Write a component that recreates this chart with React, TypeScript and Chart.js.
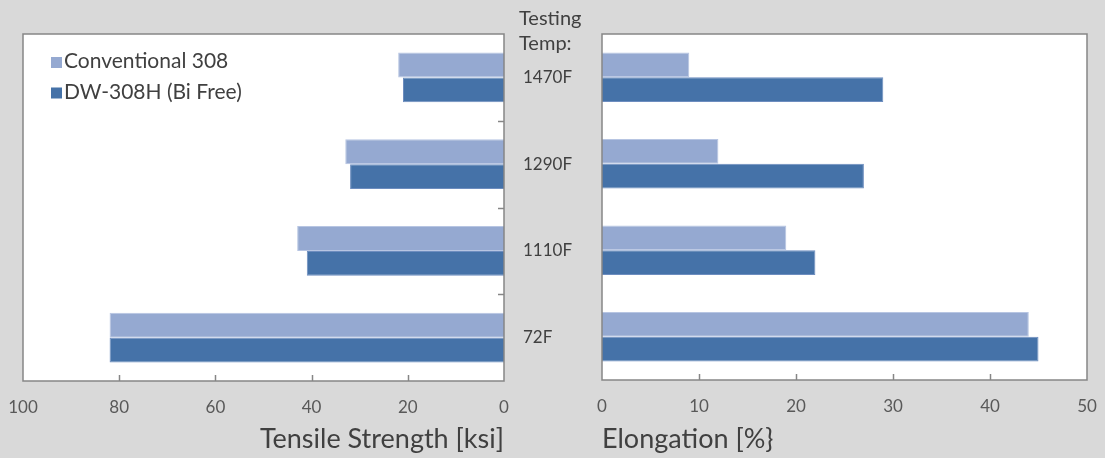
import React, { useEffect, useRef } from "react";
import { Chart, registerables } from "chart.js";

Chart.register(...registerables);

// ---- data ----
const temps = ["1470F", "1290F", "1110F", "72F"];
const seriesNames = ["Conventional 308", "DW-308H (Bi Free)"];
const tensileConventional = [22, 33, 43, 82];
const tensileDW = [21, 32, 41, 82];
const elongConventional = [9, 12, 19, 44];
const elongDW = [29, 27, 22, 45];
const tensileMax = 100;
const tensileStep = 20;
const elongMax = 50;
const elongStep = 10;
const tensileTitle = "Tensile Strength [ksi]";
const elongTitle = "Elongation [%}";
const headerLines = ["Testing", "Temp:"];

// ---- styles ----
const W = 1105;
const H = 458;
const BG = "#d9d9d9";
const LIGHT = "#95a9d1";
const LIGHT_BORDER = "#b7c5e2";
const DARK = "#4572a8";
const DARK_BORDER = "#6d8dbf";
const FRAME = "#868686";
const TEXT = "#404040";
const TICK_TEXT = "#595959";
const FONT = "Lato";

const framePlugin = {
  id: "frame",
  beforeDraw(chart: any) {
    const { ctx, chartArea: a } = chart;
    ctx.save();
    ctx.fillStyle = "#ffffff";
    ctx.fillRect(a.left, a.top, a.right - a.left, a.bottom - a.top);
    ctx.restore();
  },
  afterDraw(chart: any, _args: any, opts: any) {
    const { ctx, chartArea: a } = chart;
    ctx.save();
    ctx.strokeStyle = FRAME;
    ctx.lineWidth = 1.5;
    const xs = chart.scales.x;
    ctx.beginPath();
    xs.ticks.forEach((t: any) => {
      const px = Math.round(xs.getPixelForValue(t.value)) + 0.5;
      if (px > a.left + 2 && px < a.right - 2) {
        ctx.moveTo(px, a.bottom);
        ctx.lineTo(px, a.bottom - 6);
      }
    });
    ctx.stroke();
    if (opts && opts.yTicks) {
      const ys = chart.scales.y;
      ctx.beginPath();
      for (let i = 1; i < ys.ticks.length; i++) {
        const py =
          Math.round((ys.getPixelForTick(i - 1) + ys.getPixelForTick(i)) / 2) + 0.5;
        ctx.moveTo(a.right, py);
        ctx.lineTo(a.right - 6, py);
      }
      ctx.stroke();
    }
    ctx.strokeRect(a.left, a.top, a.right - a.left, a.bottom - a.top);
    ctx.restore();
  },
};

const legendPlugin = {
  id: "insideLegend",
  afterDraw(chart: any, _args: any, opts: any) {
    if (!opts || !opts.show) return;
    const { ctx, chartArea: a } = chart;
    ctx.save();
    ctx.font = `21px ${FONT}`;
    ctx.textBaseline = "alphabetic";
    ctx.textAlign = "left";
    chart.data.datasets.forEach((ds: any, i: number) => {
      const baseY = a.top + 34 + i * 30.5;
      ctx.fillStyle = ds.backgroundColor;
      ctx.fillRect(a.left + 28, baseY - 11, 11, 11);
      ctx.fillStyle = TEXT;
      ctx.fillText(ds.label, a.left + 41, baseY);
    });
    ctx.restore();
  },
};

const headerPlugin = {
  id: "header",
  afterDraw(chart: any, _args: any, opts: any) {
    if (!opts || !opts.show) return;
    const { ctx, chartArea: a } = chart;
    ctx.save();
    ctx.font = `20px ${FONT}`;
    ctx.fillStyle = TEXT;
    ctx.textAlign = "left";
    ctx.textBaseline = "alphabetic";
    headerLines.forEach((line, i) => {
      ctx.fillText(line, a.right + 15, 25 + i * 25);
    });
    ctx.restore();
  },
};

function makeConfig(left: boolean, a: number[], b: number[]): any {
  const xTicks = {
    stepSize: left ? tensileStep : elongStep,
    font: { family: FONT, size: 17 },
    color: TICK_TEXT,
    padding: 16,
    maxRotation: 0,
    autoSkip: false,
  };
  const titleCfg = (text: string, align: string) => ({
    display: true,
    text,
    align,
    font: { family: FONT, size: 27 },
    color: TEXT,
    padding: { top: 0, bottom: 3 },
  });
  const noPad = (scale: any) => {
    scale.paddingLeft = 0;
    scale.paddingRight = 0;
  };

  const scales: any = left
    ? {
        x: {
          type: "linear",
          position: "bottom",
          reverse: true,
          min: 0,
          max: tensileMax,
          grid: { display: false, drawTicks: false },
          border: { display: false },
          ticks: xTicks,
          afterFit(scale: any) {
            scale.height = 40;
            noPad(scale);
          },
        },
        xTitle: {
          type: "linear",
          axis: "x",
          position: "bottom",
          min: 0,
          max: tensileMax,
          grid: { display: false, drawTicks: false },
          border: { display: false },
          ticks: { display: false },
          title: titleCfg(tensileTitle, "end"),
          afterFit(scale: any) {
            scale.height = H - 381 - 40;
            noPad(scale);
          },
        },
        y: {
          type: "category",
          position: "right",
          grid: { display: false, drawTicks: false },
          border: { display: false },
          ticks: {
            font: { family: FONT, size: 17 },
            color: TEXT,
            padding: 19,
          },
          afterFit(scale: any) {
            scale.width = 98;
          },
        },
      }
    : {
        x: {
          type: "linear",
          position: "bottom",
          min: 0,
          max: elongMax,
          grid: { display: false, drawTicks: false },
          border: { display: false },
          ticks: xTicks,
          title: titleCfg(elongTitle, "start"),
          afterFit(scale: any) {
            scale.height = H - 380;
            noPad(scale);
          },
        },
        y: {
          type: "category",
          display: false,
        },
      };

  return {
    type: "bar",
    data: {
      labels: temps,
      datasets: [
        {
          label: seriesNames[0],
          data: a,
          backgroundColor: LIGHT,
          borderColor: LIGHT_BORDER,
          borderWidth: 1,
          categoryPercentage: 0.573,
          barPercentage: 1,
        },
        {
          label: seriesNames[1],
          data: b,
          backgroundColor: DARK,
          borderColor: DARK_BORDER,
          borderWidth: 1,
          categoryPercentage: 0.573,
          barPercentage: 1,
        },
      ],
    },
    options: {
      indexAxis: "y",
      responsive: false,
      animation: false,
      devicePixelRatio: 1,
      layout: {
        padding: left
          ? { left: 23, top: 34, right: W - 602, bottom: 0 }
          : { left: 602, top: 34, right: W - 1087, bottom: 0 },
      },
      plugins: {
        legend: { display: false },
        tooltip: { enabled: false },
        frame: { yTicks: left },
        insideLegend: { show: left },
        header: { show: left },
      },
      scales,
    },
    plugins: [framePlugin, legendPlugin, headerPlugin],
  };
}

export default function App() {
  const leftRef = useRef<HTMLCanvasElement>(null);
  const rightRef = useRef<HTMLCanvasElement>(null);

  useEffect(() => {
    const c1 = new Chart(
      leftRef.current as HTMLCanvasElement,
      makeConfig(true, tensileConventional, tensileDW)
    );
    const c2 = new Chart(
      rightRef.current as HTMLCanvasElement,
      makeConfig(false, elongConventional, elongDW)
    );
    return () => {
      c1.destroy();
      c2.destroy();
    };
  }, []);

  const canvasStyle: React.CSSProperties = {
    position: "absolute",
    left: 0,
    top: 0,
    width: W,
    height: H,
  };

  return (
    <div
      style={{
        position: "fixed",
        left: 0,
        top: 0,
        width: W,
        height: H,
        background: BG,
        overflow: "hidden",
      }}
    >
      <canvas ref={leftRef} width={W} height={H} style={canvasStyle} />
      <canvas ref={rightRef} width={W} height={H} style={canvasStyle} />
    </div>
  );
}
